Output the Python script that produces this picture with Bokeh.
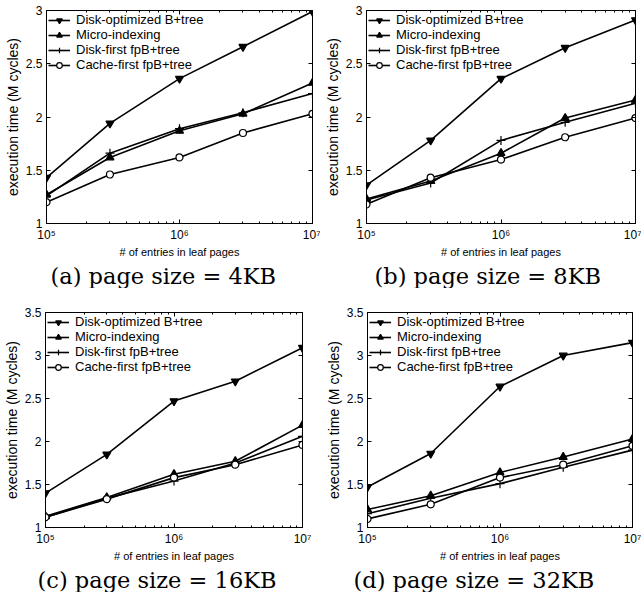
from bokeh.plotting import figure
from bokeh.layouts import row, column
from bokeh.models import (FixedTicker, CustomJSTickFormatter, LinearAxis, LogAxis,
                          Range1d, Legend, LegendItem)
from bokeh.embed import file_html
from bokeh.resources import INLINE

entries = [1e5, 3e5, 1e6, 3e6, 1e7]
series_names = ["Disk-optimized B+tree", "Micro-indexing",
                "Disk-first fpB+tree", "Cache-first fpB+tree"]

disk_opt_4kb = [1.43, 1.94, 2.36, 2.66, 2.99]
micro_4kb = [1.27, 1.62, 1.87, 2.03, 2.32]
disk_first_4kb = [1.26, 1.66, 1.89, 2.04, 2.22]
cache_first_4kb = [1.20, 1.46, 1.62, 1.85, 2.03]

disk_opt_8kb = [1.36, 1.78, 2.36, 2.65, 2.91]
micro_8kb = [1.23, 1.40, 1.66, 1.99, 2.16]
disk_first_8kb = [1.22, 1.38, 1.78, 1.95, 2.13]
cache_first_8kb = [1.18, 1.43, 1.60, 1.81, 1.99]

disk_opt_16kb = [1.40, 1.85, 2.47, 2.70, 3.09]
micro_16kb = [1.13, 1.35, 1.62, 1.77, 2.19]
disk_first_16kb = [1.12, 1.34, 1.54, 1.75, 2.06]
cache_first_16kb = [1.12, 1.33, 1.58, 1.73, 1.96]

disk_opt_32kb = [1.47, 1.86, 2.64, 3.00, 3.15]
micro_32kb = [1.21, 1.37, 1.64, 1.82, 2.03]
disk_first_32kb = [1.16, 1.34, 1.51, 1.70, 1.90]
cache_first_32kb = [1.10, 1.27, 1.58, 1.73, 1.95]

captions = ["(a) page size = 4KB", "(b) page size = 8KB",
            "(c) page size = 16KB", "(d) page size = 32KB"]
y_ticks_low = [1, 1.5, 2, 2.5, 3]
y_ticks_high = [1, 1.5, 2, 2.5, 3, 3.5]
x_major_ticks = [1e5, 1e6, 1e7]
x_minor_ticks = [2e5, 3e5, 4e5, 5e5, 6e5, 7e5, 8e5, 9e5,
                 2e6, 3e6, 4e6, 5e6, 6e6, 7e6, 8e6, 9e6]

panels = [
    (captions[0], [disk_opt_4kb, micro_4kb, disk_first_4kb, cache_first_4kb], 3.0, y_ticks_low),
    (captions[1], [disk_opt_8kb, micro_8kb, disk_first_8kb, cache_first_8kb], 3.0, y_ticks_low),
    (captions[2], [disk_opt_16kb, micro_16kb, disk_first_16kb, cache_first_16kb], 3.5, y_ticks_high),
    (captions[3], [disk_opt_32kb, micro_32kb, disk_first_32kb, cache_first_32kb], 3.5, y_ticks_high),
]

# layout: (width, height, frame_w, frame_h, left, top, caption_offset)
geoms = [
    (320, 288, 266, 220, 46, 10, 4),
    (321, 288, 269, 224, 46, 8, 8),
    (320, 304, 261, 221, 41, 24, -8),
    (321, 304, 265, 221, 47, 24, -14),
]

markers = [("inverted_triangle", "black", 8), ("triangle", "black", 8),
           ("cross", "black", 9), ("circle", "white", 7)]

SANS = "Liberation Sans"
sup_fmt = CustomJSTickFormatter(code="""
const e = Math.round(Math.log10(tick));
const s = {"5": "\u2075", "6": "\u2076", "7": "\u2077"};
return "10" + s[String(e)];
""")
num_fmt = CustomJSTickFormatter(code="return tick.toString();")
empty_fmt = CustomJSTickFormatter(code="return '';")


def style_axis(ax, minor=True):
    ax.major_tick_in = 4
    ax.major_tick_out = 0
    ax.minor_tick_in = 2 if minor else 0
    ax.minor_tick_out = 0
    ax.axis_line_color = "black"
    ax.major_tick_line_color = "black"
    ax.minor_tick_line_color = "black" if minor else None
    ax.major_label_text_font = SANS
    ax.major_label_text_font_size = "12px"
    ax.major_label_text_color = "black"
    ax.axis_label_text_font = SANS
    ax.axis_label_text_font_size = "11px"
    ax.axis_label_text_font_style = "normal"
    ax.axis_label_text_color = "black"


figs = []
for (cap, series, ymax, yt), (w, h, fw, fh, bl, bt, coff) in zip(panels, geoms):
    p = figure(width=w, height=h, x_axis_type="log",
               x_range=Range1d(1e5, 1e7), y_range=Range1d(1, ymax),
               output_backend="svg", toolbar_location=None,
               title=cap, title_location="below",
               min_border_left=bl, min_border_right=w - bl - fw,
               min_border_top=bt, min_border_bottom=h - bt - fh)
    p.xgrid.visible = False
    p.ygrid.visible = False
    p.outline_line_color = "black"
    p.outline_line_width = 1
    p.background_fill_color = "white"
    p.border_fill_color = "white"

    xt = FixedTicker(ticks=x_major_ticks, minor_ticks=x_minor_ticks)
    ytk = FixedTicker(ticks=yt, minor_ticks=[])
    p.xaxis.ticker = xt
    p.xaxis.formatter = sup_fmt
    p.xaxis.axis_label = "# of entries in leaf pages"
    p.yaxis.ticker = ytk
    p.yaxis.formatter = num_fmt
    p.yaxis.axis_label = "execution time (M cycles)"
    for ax in p.xaxis:
        style_axis(ax, True)
        ax.axis_label_standoff = 1
        ax.major_label_standoff = 4
    for ax in p.yaxis:
        style_axis(ax, False)
        ax.axis_label_standoff = 2
        ax.axis_label_text_font_size = "14px"
        ax.major_label_standoff = 4

    top_ax = LogAxis(ticker=xt, formatter=empty_fmt, major_label_standoff=0)
    style_axis(top_ax, True)
    top_ax.major_label_text_font_size = "0px"
    right_ax = LinearAxis(ticker=ytk, formatter=empty_fmt, major_label_standoff=0)
    style_axis(right_ax, False)
    right_ax.major_label_text_font_size = "0px"
    p.add_layout(top_ax, "above")
    p.add_layout(right_ax, "right")

    p.title.align = "left"
    p.title.offset = coff
    p.title.standoff = 0
    p.title.text_font = "DejaVu Serif"
    p.title.text_font_size = "22.5px"
    p.title.text_font_style = "normal"
    p.title.text_color = "black"

    items = []
    for name, vals, (mk, fill, sz) in zip(series_names, series, markers):
        lr = p.line(entries, vals, line_color="black", line_width=1.6)
        sr = p.scatter(entries, vals, marker=mk, size=sz, fill_color=fill,
                       line_color="black", line_width=1.2)
        items.append(LegendItem(label=name, renderers=[lr, sr]))
    leg = Legend(items=items, location="top_left")
    leg.border_line_color = None
    leg.background_fill_alpha = 0
    leg.label_text_font = SANS
    leg.label_text_font_size = "13px"
    leg.label_text_color = "black"
    leg.glyph_width = 22
    leg.glyph_height = 14
    leg.label_height = 14
    leg.spacing = 0
    leg.padding = 3
    leg.margin = 2
    leg.label_standoff = 6
    p.add_layout(leg)
    figs.append(p)

layout = column(row(figs[0], figs[1]), row(figs[2], figs[3]))

open("out.html", "w").write(file_html(layout, INLINE))
